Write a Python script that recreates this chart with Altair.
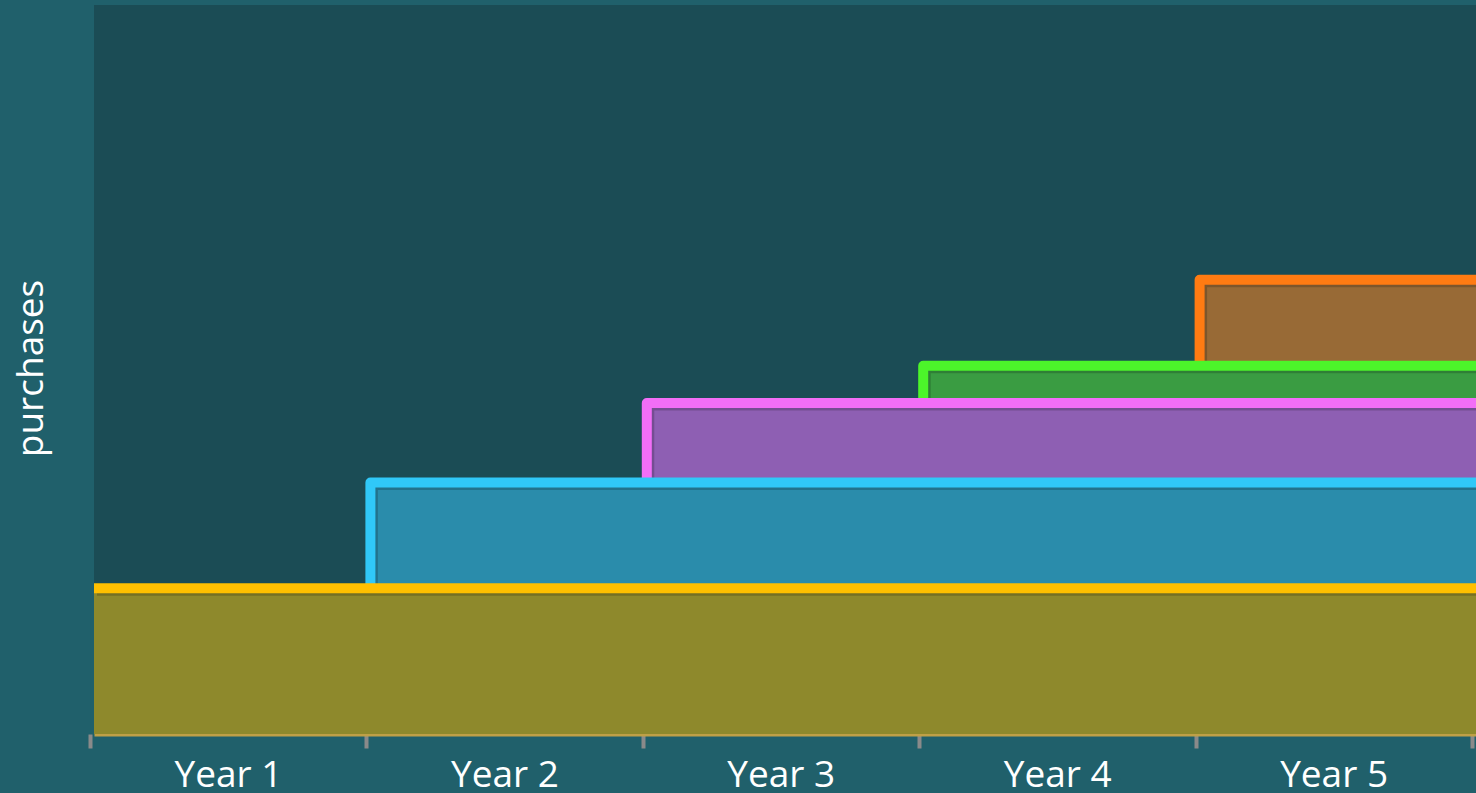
import altair as alt
import pandas as pd

years = ["Year 1", "Year 2", "Year 3", "Year 4", "Year 5"]
cohort_names = ["Cohort 1", "Cohort 2", "Cohort 3", "Cohort 4", "Cohort 5"]
cohort_start = [0, 1, 2, 3, 4]
cohort_size = [20.0, 14.5, 10.9, 5.1, 11.8]
line_colors = ["#ffc000", "#30c8f8", "#f26ef7", "#4cf52a", "#ff7b12"]
fill_colors = ["#8e892c", "#2a8cab", "#8e5fb3", "#3a9c42", "#986a36"]
x_end = 5

# build tables from the arrays
fill_rows = []
line_tables = []
base = 0.0
for i, (name, s, size) in enumerate(zip(cohort_names, cohort_start, cohort_size)):
    top = base + size
    fill_rows.append({"cohort": name, "start": s, "end": x_end, "base": base,
                      "top": top, "fill": fill_colors[i]})
    pts = []
    if i > 0:
        pts.append({"cohort": name, "x": s, "y": base, "idx": 0})
    pts.append({"cohort": name, "x": s, "y": top, "idx": 1})
    pts.append({"cohort": name, "x": x_end, "y": top, "idx": 2})
    line_tables.append(pd.DataFrame(pts))
    base = top

fills = pd.DataFrame(fill_rows)

xscale = alt.Scale(domain=[0, x_end], nice=False, zero=False)
yscale = alt.Scale(domain=[0, 100], nice=False)

year_expr = "datum.value < 5 ? 'Year ' + (datum.value + 1) : ''"
xaxis = alt.Axis(
    values=[0, 1, 2, 3, 4, 5],
    labelExpr=year_expr,
    labelOffset=138, tickOffset=-4, tickSize=14, tickWidth=4,
    tickColor="#8a8a8a", domainColor="#bfa046", domainWidth=4,
    labelColor="white", labelFont="Open Sans", labelFontSize=37,
    labelPadding=9, labelAlign="center", labelBaseline="top",
    grid=False, title=None,
)
yaxis = alt.Axis(
    labels=False, ticks=False, domain=False, grid=False,
    title="purchases", titleColor="white", titleFont="Open Sans",
    titleFontSize=37, titleFontWeight="normal", titleX=-52, titleY=363,
    titleAngle=270, titleAlign="center", titleBaseline="alphabetic",
)

rects = alt.Chart(fills).mark_rect().encode(
    x=alt.X("start:Q", scale=xscale, axis=xaxis),
    x2="end:Q",
    y=alt.Y("base:Q", scale=yscale, axis=yaxis),
    y2="top:Q",
    color=alt.Color("fill:N", scale=None, legend=None),
)

layers = [rects]
for i in reversed(range(len(cohort_names))):
    df = line_tables[i]
    shadow = alt.Chart(df).mark_line(
        strokeWidth=9, color="black", opacity=0.18, xOffset=3, yOffset=3,
        strokeCap="butt", strokeJoin="round",
    ).encode(
        x=alt.X("x:Q", scale=xscale, axis=xaxis),
        y=alt.Y("y:Q", scale=yscale, axis=yaxis),
        order="idx:Q",
    )
    line = alt.Chart(df).mark_line(
        strokeWidth=10, color=line_colors[i], strokeCap="butt", strokeJoin="round",
    ).encode(
        x=alt.X("x:Q", scale=xscale, axis=xaxis),
        y=alt.Y("y:Q", scale=yscale, axis=yaxis),
        order="idx:Q",
    )
    layers += [shadow, line]

chart = alt.layer(*layers).properties(
    width=1382, height=729,
    background="#20606b",
    autosize=alt.AutoSizeParams(type="none"),
    padding={"left": 94, "top": 5, "right": 0, "bottom": 59},
).configure(font="Open Sans").configure_view(stroke=None, fill="#1b4c55")

chart.save("out.html", embed_options={"renderer": "svg", "actions": False})
